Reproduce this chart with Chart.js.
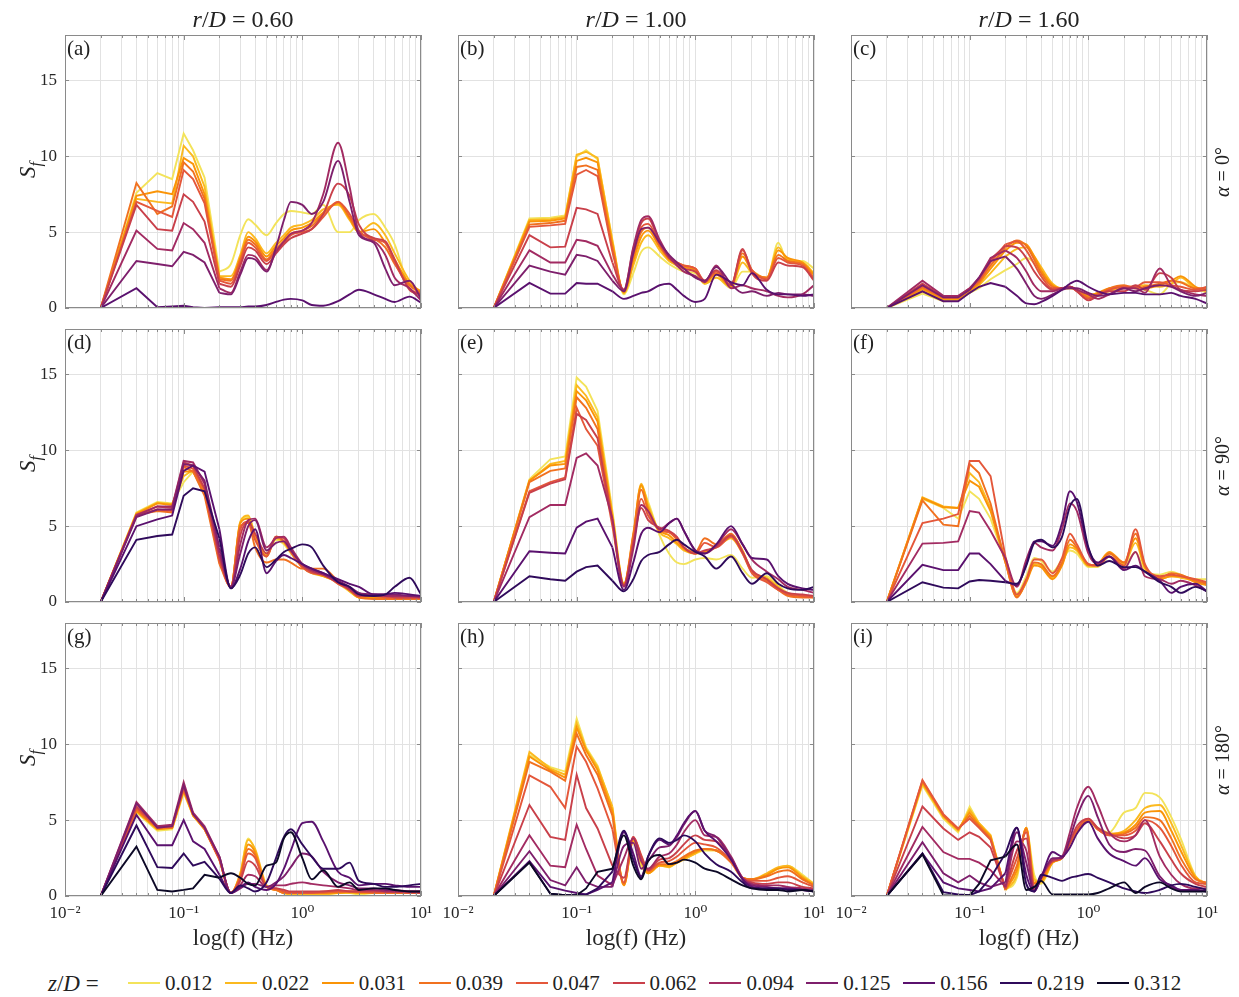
<!DOCTYPE html>
<html>
<head>
<meta charset="utf-8">
<title>Spectra S_f</title>
<script src="https://cdn.jsdelivr.net/npm/chart.js@4.4.1/dist/chart.umd.min.js"></script>
<style>
  body { margin: 0; background: #fff; }
  #page { position: relative; width: 1239px; height: 997px; overflow: hidden;
          font-family: "Liberation Serif", "DejaVu Serif", serif; color: #222; }
  #page canvas { position: absolute; }
  .txt { position: absolute; white-space: nowrap; line-height: 1; }
  .rot { transform: translate(-50%, -50%) rotate(-90deg); }
  .ctr { transform: translate(-50%, -50%); }
  .mid { transform: translate(0, -50%); }
</style>
</head>
<body>
<div id="page"></div>
<script>
// frequency samples (Hz) shared by every curve
const freq = [0.02, 0.04, 0.06, 0.08, 0.1, 0.12, 0.15, 0.2, 0.25, 0.3, 0.35, 0.4, 0.5, 0.6, 0.7,
              0.8, 1, 1.2, 1.5, 2, 2.5, 3, 4, 5, 6, 8, 10];
// below this frequency the spectra are drawn as straight segments
const linearUpTo = 0.2;

const zLabels = ['0.012', '0.022', '0.031', '0.039', '0.047', '0.062', '0.094', '0.125', '0.156', '0.219', '0.312'];
const zColors = ['#f3e35a', '#fbb91f', '#fa9407', '#f1711f', '#e4573a', '#c9404a',
                 '#a22b62', '#7e1f6c', '#5a116e', '#2f0a5b', '#0c0826'];

const rdLabels = ['0.60', '1.00', '1.60'];
const alphaLabels = ['0°', '90°', '180°'];
const panelLetters = ['a', 'b', 'c', 'd', 'e', 'f', 'g', 'h', 'i'];

const yTicks = [0, 5, 10, 15];
const xMajor = [0.01, 0.1, 1, 10];
const xMajorLabels = ['10⁻²', '10⁻¹', '10⁰', '10¹'];

// (a) r/D = 0.60, alpha = 0
const zA = [0, 1, 2, 3, 4, 5, 6, 7, 8];
const sA = [
  [0, 7.6, 8.9, 8.5, 11.5, 10.4, 8.6, 2.4, 2.9, 4.8, 5.85, 5.5, 4.8, 5.6, 6.2, 6.4, 6.3, 6.2, 6.8, 5.0, 5.0, 5.8, 6.2, 5.3, 4.2, 1.3, 0.8],
  [0, 7.2, 7.0, 6.9, 10.7, 10.0, 8.0, 2.1, 2.1, 3.5, 5.0, 4.6, 3.6, 4.3, 4.8, 5.3, 5.5, 5.8, 6.5, 6.8, 5.8, 5.0, 5.6, 4.8, 3.6, 1.8, 1.0],
  [0, 7.4, 7.7, 7.5, 9.9, 9.5, 7.5, 2.0, 1.9, 3.3, 4.7, 4.4, 3.4, 4.1, 4.6, 5.1, 5.3, 5.6, 6.3, 6.9, 5.9, 5.0, 5.2, 4.3, 3.2, 1.6, 1.1],
  [0, 8.25, 6.2, 6.7, 9.6, 9.0, 7.2, 1.9, 1.8, 3.2, 4.5, 4.2, 3.2, 3.9, 4.4, 4.9, 5.1, 5.4, 6.2, 7.0, 6.0, 5.0, 4.6, 4.0, 2.9, 1.5, 1.0],
  [0, 7.0, 6.4, 6.0, 9.1, 8.5, 6.9, 1.8, 1.6, 3.0, 4.3, 4.0, 3.1, 3.8, 4.3, 4.8, 5.0, 5.2, 6.0, 7.0, 6.2, 5.1, 4.5, 4.3, 3.0, 1.3, 0.9],
  [0, 6.8, 5.2, 5.1, 7.5, 7.0, 5.7, 1.6, 1.4, 2.8, 4.0, 3.8, 2.9, 3.6, 4.2, 4.6, 4.9, 5.2, 6.2, 8.2, 7.4, 5.5, 4.6, 4.4, 3.2, 1.2, 0.9],
  [0, 5.1, 3.9, 3.8, 5.6, 5.2, 4.3, 1.3, 1.0, 2.4, 3.5, 3.4, 2.5, 3.7, 4.4, 4.9, 5.1, 5.6, 7.5, 10.9, 8.0, 5.0, 4.4, 3.5, 2.0, 1.3, 0.5],
  [0, 3.1, 2.9, 2.75, 3.7, 3.5, 3.0, 1.0, 0.9, 2.2, 3.3, 3.2, 2.4, 4.0, 5.8, 7.0, 6.8, 6.2, 7.0, 9.7, 7.0, 4.8, 4.3, 2.6, 1.5, 1.8, 0.6],
  [0, 1.3, 0.05, 0.1, 0.15, 0.05, 0, 0.05, 0.05, 0.05, 0.1, 0.1, 0.2, 0.4, 0.55, 0.6, 0.5, 0.2, 0.15, 0.45, 0.9, 1.2, 0.9, 0.6, 0.4, 0.75, 0.35]
];

// (b) r/D = 1.00, alpha = 0
const zB = [0, 1, 2, 3, 4, 5, 6, 7, 8];
const sB = [
  [0, 5.9, 5.95, 6.1, 10.0, 10.4, 9.8, 4.5, 0.9, 2.3, 3.7, 4.0, 3.4, 2.9, 2.6, 2.4, 2.3, 1.6, 2.0, 1.3, 2.4, 2.4, 1.9, 4.3, 3.0, 3.1, 2.6],
  [0, 5.8, 5.85, 6.0, 10.1, 10.3, 9.9, 4.4, 1.0, 2.8, 4.3, 4.8, 3.8, 3.1, 2.8, 2.6, 2.4, 1.6, 2.0, 1.4, 3.0, 2.3, 2.0, 4.0, 3.2, 3.0, 2.3],
  [0, 5.7, 5.75, 5.9, 9.7, 9.9, 9.6, 4.2, 1.0, 3.1, 4.7, 5.1, 4.0, 3.2, 2.9, 2.7, 2.5, 1.7, 2.2, 1.4, 3.4, 2.4, 2.0, 3.8, 3.3, 3.0, 2.2],
  [0, 5.5, 5.6, 5.75, 9.3, 9.4, 9.1, 3.9, 1.1, 3.4, 5.0, 5.3, 4.1, 3.3, 3.0, 2.8, 2.6, 1.7, 2.3, 1.5, 3.6, 2.5, 2.0, 3.5, 3.1, 2.9, 2.0],
  [0, 5.35, 5.45, 5.55, 8.8, 9.1, 8.7, 3.7, 1.1, 3.6, 5.3, 5.55, 4.2, 3.3, 3.0, 2.8, 2.6, 1.8, 2.4, 1.5, 3.8, 2.5, 1.9, 3.3, 3.0, 2.8, 1.9],
  [0, 4.8, 4.0, 4.05, 6.6, 6.5, 6.2, 3.0, 1.2, 3.9, 5.6, 5.9, 4.3, 3.3, 2.9, 2.6, 2.4, 1.8, 2.5, 1.5, 3.9, 2.3, 1.8, 3.0, 2.8, 2.7, 1.8],
  [0, 3.8, 3.0, 3.0, 4.5, 4.4, 4.1, 2.2, 1.2, 4.0, 5.8, 6.05, 4.5, 3.4, 2.8, 2.4, 2.1, 1.7, 2.8, 1.3, 1.5, 1.3, 1.1, 0.8, 0.7, 0.9, 1.5],
  [0, 2.8, 2.4, 2.2, 3.5, 3.4, 3.1, 1.8, 1.1, 3.6, 5.2, 5.3, 4.3, 3.5, 3.0, 2.6, 2.0, 1.8, 2.7, 1.6, 1.0, 1.1, 0.8, 1.0, 0.9, 0.9, 0.8],
  [0, 1.65, 0.95, 0.95, 1.65, 1.6, 1.6, 1.1, 0.6, 0.8, 1.0, 1.1, 1.5, 1.6, 1.2, 0.8, 0.4, 0.6, 2.2, 1.7, 1.5, 2.3, 1.2, 0.9, 0.9, 0.8, 0.9]
];

// (c) r/D = 1.60, alpha = 0
const zC = [0, 1, 2, 3, 4, 5, 6, 7, 8];
const sC = [
  [0, 0.95, 0.45, 0.5, 1.0, 1.3, 1.9, 2.5, 2.9, 3.3, 3.0, 2.4, 1.5, 1.3, 1.3, 1.2, 0.9, 0.9, 1.1, 1.4, 1.3, 1.2, 0.9, 1.6, 1.7, 1.3, 1.0],
  [0, 1.1, 0.55, 0.55, 1.1, 1.5, 2.3, 3.4, 3.9, 4.0, 3.4, 2.7, 1.6, 1.3, 1.3, 1.2, 0.8, 1.0, 1.2, 1.3, 1.4, 1.5, 1.4, 1.6, 2.0, 1.3, 1.2],
  [0, 1.25, 0.6, 0.6, 1.15, 1.6, 2.6, 3.8, 4.3, 4.2, 3.4, 2.5, 1.5, 1.3, 1.4, 1.2, 0.8, 1.0, 1.3, 1.4, 1.4, 1.3, 1.5, 1.8, 2.1, 1.4, 1.1],
  [0, 1.35, 0.65, 0.65, 1.2, 1.7, 2.8, 4.0, 4.45, 4.1, 3.2, 2.3, 1.4, 1.3, 1.4, 1.2, 0.7, 0.9, 1.3, 1.5, 1.3, 1.4, 1.6, 1.8, 1.7, 1.3, 1.3],
  [0, 1.45, 0.7, 0.7, 1.25, 1.8, 3.0, 4.2, 4.4, 3.8, 2.9, 2.1, 1.3, 1.3, 1.4, 1.1, 0.6, 0.9, 1.2, 1.4, 1.4, 1.7, 1.7, 1.5, 1.4, 1.2, 1.4],
  [0, 1.6, 0.75, 0.75, 1.3, 1.9, 3.2, 4.1, 4.0, 3.3, 2.4, 1.8, 1.2, 1.3, 1.4, 1.1, 0.5, 0.8, 1.1, 1.1, 1.5, 1.2, 2.3, 2.0, 1.2, 1.1, 1.2],
  [0, 1.8, 0.8, 0.8, 1.3, 2.0, 3.3, 3.8, 3.3, 2.4, 1.5, 1.1, 1.1, 1.3, 1.4, 1.2, 0.9, 0.6, 0.9, 1.3, 1.3, 1.0, 2.6, 1.5, 1.2, 0.9, 0.8],
  [0, 1.5, 0.7, 0.7, 1.2, 2.0, 3.1, 3.4, 2.6, 1.6, 0.8, 0.6, 0.9, 1.2, 1.3, 1.3, 1.0, 0.8, 0.9, 1.3, 1.1, 1.3, 1.5, 1.4, 1.1, 0.8, 1.0],
  [0, 1.1, 0.45, 0.45, 1.0, 1.4, 1.65, 1.4, 0.8, 0.3, 0.25, 0.4, 0.8, 1.2, 1.6, 1.8, 1.4, 1.1, 0.9, 1.0, 1.0, 0.9, 0.9, 1.0, 0.8, 0.6, 0.3]
];

// (d) r/D = 0.60, alpha = 90
const zD = [0, 1, 2, 3, 4, 5, 6, 7, 8, 9];
const sD = [
  [0, 5.9, 6.6, 6.5, 7.9, 8.6, 7.2, 3.0, 1.0, 5.2, 5.6, 4.4, 3.2, 4.1, 3.8, 3.2, 2.3, 1.9, 1.8, 1.2, 0.7, 0.3, 0.3, 0.3, 0.3, 0.2, 0.2],
  [0, 5.85, 6.55, 6.45, 8.3, 8.7, 7.3, 2.9, 1.0, 5.3, 5.7, 4.4, 3.1, 4.2, 3.9, 3.3, 2.3, 1.9, 1.7, 1.3, 0.7, 0.3, 0.3, 0.3, 0.3, 0.2, 0.2],
  [0, 5.8, 6.5, 6.4, 8.6, 8.6, 7.2, 2.7, 1.0, 5.2, 5.5, 4.2, 3.0, 4.3, 4.0, 3.3, 2.3, 2.0, 1.7, 1.3, 0.8, 0.3, 0.3, 0.3, 0.3, 0.2, 0.2],
  [0, 5.75, 6.0, 5.9, 8.9, 8.6, 7.0, 2.5, 1.0, 5.0, 5.2, 3.6, 2.6, 2.8, 2.8, 2.6, 2.2, 2.2, 2.2, 1.4, 0.9, 0.3, 0.2, 0.2, 0.2, 0.2, 0.2],
  [0, 5.7, 6.1, 6.0, 9.0, 8.8, 7.4, 2.7, 1.0, 4.8, 5.3, 4.1, 3.0, 4.3, 4.0, 3.3, 2.3, 1.9, 1.8, 1.2, 0.8, 0.4, 0.4, 0.3, 0.3, 0.3, 0.3],
  [0, 5.75, 6.3, 6.2, 9.2, 9.0, 7.5, 2.9, 1.0, 4.4, 5.3, 4.5, 3.2, 4.3, 4.2, 3.5, 2.4, 2.0, 1.8, 1.3, 0.8, 0.4, 0.4, 0.4, 0.3, 0.3, 0.3],
  [0, 5.7, 6.3, 6.3, 9.3, 9.2, 7.8, 3.2, 1.0, 3.8, 5.4, 5.5, 3.6, 4.2, 4.3, 3.6, 2.5, 2.1, 1.8, 1.3, 0.9, 0.5, 0.5, 0.4, 0.4, 0.4, 0.3],
  [0, 5.6, 6.1, 6.1, 9.1, 9.0, 8.0, 3.6, 1.0, 3.2, 5.0, 5.4, 3.4, 3.9, 4.0, 3.4, 2.5, 2.2, 1.9, 1.4, 1.0, 0.6, 0.5, 0.5, 0.5, 0.4, 0.4],
  [0, 5.0, 5.45, 5.7, 8.65, 9.0, 8.6, 4.8, 0.9, 2.2, 4.0, 4.8, 1.9, 2.7, 3.1, 2.9, 2.5, 2.2, 1.9, 1.5, 1.2, 1.0, 0.5, 0.5, 0.6, 0.5, 0.4],
  [0, 4.1, 4.35, 4.45, 7.0, 7.5, 7.3, 4.2, 0.9, 1.8, 3.2, 3.6, 2.3, 2.8, 3.3, 3.5, 3.8, 3.6, 2.4, 1.3, 1.0, 0.5, 0.4, 0.5, 1.0, 1.6, 0.5]
];

// (e) r/D = 1.00, alpha = 90
const zE = [0, 1, 2, 3, 4, 5, 6, 8, 9];
const sE = [
  [0, 8.1, 9.4, 9.6, 14.8, 14.2, 12.6, 6.0, 1.2, 4.0, 7.6, 6.6, 4.4, 3.2, 2.6, 2.5, 2.8, 2.9, 2.8, 3.1, 2.2, 1.6, 1.7, 1.1, 0.6, 0.4, 0.3],
  [0, 8.0, 9.1, 9.3, 14.3, 13.6, 12.2, 5.8, 1.2, 4.3, 7.8, 6.4, 4.6, 4.2, 3.8, 3.4, 3.2, 3.3, 3.6, 4.2, 3.2, 2.0, 1.6, 1.0, 0.5, 0.4, 0.4],
  [0, 8.0, 9.0, 9.1, 13.9, 13.3, 11.9, 5.6, 1.2, 4.5, 7.7, 6.2, 4.7, 4.4, 3.9, 3.5, 3.2, 3.3, 3.7, 4.4, 3.4, 2.0, 1.5, 0.9, 0.5, 0.4, 0.4],
  [0, 7.9, 8.65, 8.8, 13.5, 12.8, 11.4, 5.4, 1.1, 4.4, 7.4, 6.0, 4.7, 4.6, 4.1, 3.6, 3.3, 4.2, 3.8, 4.5, 3.3, 2.0, 1.4, 0.8, 0.4, 0.3, 0.3],
  [0, 7.3, 7.9, 8.2, 12.8, 11.4, 10.3, 5.0, 1.1, 4.0, 6.8, 5.7, 4.8, 4.6, 4.2, 3.6, 3.2, 3.9, 3.6, 4.3, 3.2, 1.9, 1.3, 0.8, 0.5, 0.4, 0.3],
  [0, 7.2, 7.8, 8.1, 12.4, 12.0, 10.8, 5.3, 1.1, 3.9, 6.2, 5.4, 4.9, 4.7, 4.3, 3.6, 3.2, 3.4, 3.6, 4.4, 3.3, 2.1, 1.5, 0.9, 0.6, 0.5, 0.4],
  [0, 5.6, 6.4, 6.4, 9.5, 9.8, 9.0, 5.5, 1.0, 3.5, 6.4, 6.0, 4.8, 5.2, 5.5, 4.7, 3.4, 3.2, 3.7, 4.8, 3.8, 2.8, 2.0, 1.5, 1.0, 0.8, 0.6],
  [0, 3.35, 3.25, 3.2, 4.9, 5.3, 5.5, 3.6, 0.8, 2.6, 4.5, 4.9, 4.6, 5.2, 5.5, 4.7, 3.4, 3.2, 3.8, 5.0, 3.8, 2.9, 2.8, 1.7, 1.2, 0.9, 0.8],
  [0, 1.7, 1.5, 1.4, 2.0, 2.3, 2.4, 1.4, 0.7, 1.5, 2.7, 3.1, 3.3, 3.8, 4.1, 3.8, 3.3, 3.0, 2.2, 3.0, 1.9, 1.2, 1.9, 1.2, 0.9, 0.8, 1.0]
];

// (f) r/D = 1.60, alpha = 90
const zF = [0, 1, 2, 3, 4, 6, 8, 9];
const sF = [
  [0, 6.8, 6.2, 5.5, 7.3, 6.8, 5.5, 2.7, 0.6, 1.7, 2.9, 2.7, 2.0, 2.8, 3.4, 3.2, 2.3, 2.3, 3.0, 2.4, 3.3, 2.0, 1.8, 2.0, 1.8, 1.5, 1.5],
  [0, 6.9, 6.3, 6.2, 8.5, 7.9, 6.2, 2.7, 0.4, 1.4, 2.5, 2.4, 1.6, 2.5, 3.6, 3.4, 2.4, 2.5, 3.2, 2.5, 3.9, 2.2, 1.5, 1.7, 1.6, 1.4, 1.2],
  [0, 6.85, 6.25, 6.2, 8.0, 7.6, 6.0, 2.6, 0.35, 1.3, 2.4, 2.3, 1.5, 2.4, 3.8, 3.5, 2.4, 2.5, 3.3, 2.6, 4.2, 2.3, 1.5, 1.7, 1.7, 1.3, 1.1],
  [0, 6.7, 5.1, 5.0, 9.1, 8.5, 6.5, 2.6, 0.3, 1.4, 2.6, 2.5, 1.7, 2.6, 4.1, 3.6, 2.5, 2.4, 3.2, 2.6, 4.5, 2.4, 1.6, 1.9, 1.8, 1.4, 1.2],
  [0, 5.2, 5.5, 5.8, 9.3, 9.3, 8.3, 3.0, 0.5, 1.5, 2.8, 2.8, 1.9, 2.9, 4.5, 3.8, 2.5, 2.4, 3.0, 2.4, 4.8, 2.5, 1.7, 1.8, 1.7, 1.5, 1.3],
  [0, 3.85, 3.9, 4.0, 6.0, 5.9, 4.7, 2.9, 1.0, 2.8, 3.9, 3.6, 3.4, 4.8, 6.5, 6.0, 3.2, 2.5, 3.0, 2.2, 3.3, 1.7, 1.5, 1.2, 1.4, 1.1, 0.7],
  [0, 2.45, 2.1, 2.1, 3.2, 3.2, 2.5, 1.4, 1.1, 2.5, 4.0, 4.0, 3.7, 5.2, 7.3, 6.6, 3.5, 2.6, 3.0, 2.1, 2.4, 2.0, 1.4, 0.6, 1.0, 1.2, 0.7],
  [0, 1.3, 0.95, 0.9, 1.35, 1.45, 1.4, 1.3, 1.2, 2.4, 3.9, 4.1, 3.6, 4.3, 6.3, 6.8, 3.6, 2.4, 2.7, 2.3, 2.3, 2.0, 1.3, 1.0, 0.6, 1.0, 0.7]
];

// (g) r/D = 0.60, alpha = 180
const zG = [0, 1, 2, 3, 4, 5, 6, 7, 8, 9, 10];
const sG = [
  [0, 5.5, 4.3, 4.4, 6.8, 5.3, 4.4, 2.5, 0.2, 1.5, 3.8, 3.0, 0.6, 0.4, 0.2, 0.1, 0.1, 0.1, 0.1, 0.2, 0.2, 0.1, 0.2, 0.2, 0.2, 0.2, 0.2],
  [0, 5.6, 4.4, 4.5, 6.9, 5.3, 4.5, 2.5, 0.2, 1.5, 3.7, 3.1, 0.7, 0.4, 0.2, 0.1, 0.1, 0.1, 0.1, 0.2, 0.2, 0.2, 0.2, 0.2, 0.2, 0.2, 0.2],
  [0, 5.6, 4.4, 4.5, 7.0, 5.3, 4.4, 2.4, 0.2, 1.4, 3.4, 2.9, 0.6, 0.4, 0.2, 0.2, 0.2, 0.2, 0.2, 0.2, 0.3, 0.2, 0.2, 0.2, 0.2, 0.2, 0.2],
  [0, 5.7, 4.5, 4.5, 7.0, 5.4, 4.4, 2.4, 0.2, 1.3, 3.1, 2.7, 0.6, 0.4, 0.2, 0.2, 0.2, 0.2, 0.2, 0.3, 0.3, 0.3, 0.2, 0.2, 0.2, 0.2, 0.2],
  [0, 5.8, 4.5, 4.6, 7.1, 5.4, 4.5, 2.4, 0.2, 1.2, 2.8, 2.5, 0.6, 0.5, 0.3, 0.2, 0.2, 0.2, 0.3, 0.3, 0.3, 0.3, 0.3, 0.3, 0.3, 0.2, 0.2],
  [0, 5.9, 4.6, 4.6, 7.2, 5.4, 4.5, 2.5, 0.2, 1.0, 2.3, 2.0, 0.6, 0.5, 0.4, 0.3, 0.3, 0.3, 0.3, 0.4, 0.3, 0.3, 0.3, 0.3, 0.3, 0.3, 0.2],
  [0, 6.2, 4.6, 4.7, 7.5, 5.5, 4.6, 2.6, 0.2, 0.7, 1.4, 1.3, 0.6, 0.7, 0.7, 0.8, 0.9, 0.8, 0.7, 0.6, 0.5, 0.4, 0.4, 0.3, 0.3, 0.3, 0.3],
  [0, 6.1, 4.5, 4.6, 7.3, 5.4, 4.5, 2.6, 0.2, 0.5, 0.8, 0.8, 0.6, 0.9, 1.3, 1.9, 2.8, 2.6, 1.6, 0.9, 0.7, 0.5, 0.5, 0.4, 0.4, 0.3, 0.3],
  [0, 5.35, 3.35, 3.35, 5.0, 3.6, 3.1, 1.4, 0.2, 0.6, 0.9, 0.6, 0.4, 0.8, 1.8, 3.0, 4.8, 4.9, 3.6, 1.6, 1.2, 0.7, 0.8, 0.8, 0.7, 0.6, 0.6],
  [0, 4.65, 1.9, 1.85, 2.8, 2.0, 2.25, 1.15, 0.2, 0.7, 0.5, 0.3, 0.9, 2.5, 3.9, 4.4, 3.4, 2.6, 1.8, 1.8, 2.2, 1.0, 0.8, 0.6, 0.6, 0.7, 0.8],
  [0, 3.25, 0.4, 0.3, 0.4, 0.5, 1.4, 1.2, 1.5, 1.2, 0.8, 0.7, 2.0, 2.2, 3.8, 4.2, 2.5, 1.1, 1.7, 0.6, 0.9, 0.4, 0.5, 0.5, 0.4, 0.3, 0.3]
];

// (h) r/D = 1.00, alpha = 180
const zH = [0, 1, 2, 3, 4, 5, 6, 7, 8, 9, 10];
const sH = [
  [0, 9.3, 8.5, 8.2, 11.7, 9.8, 8.6, 5.8, 0.8, 3.7, 2.0, 1.5, 2.0, 1.9, 2.2, 2.4, 2.8, 3.0, 3.0, 2.3, 1.2, 1.1, 1.4, 1.8, 2.0, 1.4, 0.8],
  [0, 9.5, 8.4, 8.0, 11.4, 9.7, 8.5, 5.9, 0.7, 3.6, 2.2, 1.5, 2.0, 1.9, 2.2, 2.4, 2.8, 3.1, 3.0, 2.3, 1.2, 1.1, 1.5, 1.9, 2.0, 1.3, 0.8],
  [0, 9.2, 8.3, 7.8, 11.1, 9.6, 8.3, 5.6, 0.7, 3.7, 2.4, 1.5, 2.0, 2.0, 2.2, 2.5, 2.9, 3.1, 3.0, 2.3, 1.2, 1.1, 1.4, 1.8, 1.9, 1.2, 0.7],
  [0, 8.85, 8.2, 7.6, 10.7, 9.3, 8.0, 5.3, 0.8, 3.8, 2.6, 1.6, 2.1, 2.1, 2.3, 2.6, 3.0, 3.1, 3.0, 2.2, 1.2, 1.1, 1.3, 1.6, 1.7, 1.1, 0.7],
  [0, 7.95, 7.2, 5.8, 9.85, 8.85, 7.1, 4.4, 0.9, 3.9, 2.7, 1.7, 2.2, 2.3, 2.6, 3.0, 3.5, 3.4, 3.2, 2.3, 1.2, 1.0, 1.0, 1.2, 1.3, 0.9, 0.6],
  [0, 6.0, 3.9, 3.7, 8.0, 5.8, 4.45, 2.0, 1.2, 3.9, 2.6, 1.7, 2.4, 2.5, 2.9, 3.4, 4.0, 3.7, 3.6, 2.5, 1.2, 0.9, 0.8, 0.9, 0.9, 0.6, 0.5],
  [0, 4.0, 2.0, 1.9, 4.7, 3.1, 1.35, 0.7, 2.5, 3.8, 2.3, 1.8, 2.6, 2.8, 3.4, 4.2, 5.0, 4.0, 3.9, 2.6, 1.2, 0.8, 0.7, 0.7, 0.6, 0.5, 0.4],
  [0, 2.95, 1.05, 0.7, 1.9, 0.9, 0.6, 0.6, 3.3, 3.5, 1.8, 2.3, 3.2, 3.3, 3.9, 4.7, 5.6, 4.3, 3.9, 2.5, 1.1, 0.7, 0.6, 0.5, 0.5, 0.4, 0.4],
  [0, 2.3, 0.6, 0.35, 0.2, 0.1, 0.4, 0.9, 4.2, 2.8, 1.3, 2.6, 3.7, 3.4, 4.0, 4.8, 5.6, 4.3, 3.6, 2.4, 1.1, 0.6, 0.5, 0.5, 0.5, 0.4, 0.3],
  [0, 2.25, 0.15, 0.05, 0.05, 0.1, 0.5, 1.6, 4.3, 2.4, 1.2, 2.6, 3.8, 3.5, 3.7, 4.0, 3.6, 2.8, 2.1, 1.6, 0.9, 0.5, 0.5, 0.5, 0.4, 0.4, 0.3],
  [0, 2.2, 0.15, 0.05, 0.05, 0.5, 1.6, 1.8, 4.0, 2.0, 1.1, 2.3, 2.7, 2.1, 2.2, 2.4, 2.2, 1.8, 1.6, 1.1, 0.7, 0.5, 0.4, 0.4, 0.3, 0.4, 0.3]
];

// (i) r/D = 1.60, alpha = 180
const zI = [0, 1, 2, 3, 4, 5, 6, 7, 8, 9, 10];
const sI = [
  [0, 7.3, 5.1, 4.2, 5.9, 4.8, 4.0, 0.4, 1.2, 4.4, 1.4, 0.8, 2.2, 2.5, 3.5, 4.3, 5.0, 4.5, 4.2, 5.5, 5.8, 6.8, 6.5, 5.2, 3.8, 1.3, 0.7],
  [0, 7.4, 5.2, 4.3, 5.7, 4.8, 4.0, 0.4, 1.4, 4.5, 1.1, 0.9, 2.2, 2.5, 3.5, 4.3, 5.0, 4.4, 4.1, 4.3, 5.0, 5.8, 6.0, 4.8, 3.4, 1.3, 0.8],
  [0, 7.5, 5.3, 4.4, 5.5, 4.7, 3.9, 0.4, 1.7, 4.5, 0.9, 1.0, 2.2, 2.5, 3.5, 4.3, 5.0, 4.4, 4.1, 4.2, 4.7, 5.5, 5.6, 4.3, 3.0, 1.2, 0.8],
  [0, 7.6, 5.3, 4.4, 5.3, 4.6, 3.8, 0.4, 2.0, 4.4, 0.8, 1.1, 2.3, 2.5, 3.5, 4.3, 5.0, 4.4, 4.0, 4.1, 4.5, 5.2, 5.0, 3.8, 2.5, 1.1, 0.9],
  [0, 7.65, 5.4, 4.45, 5.1, 4.5, 3.7, 0.5, 2.5, 4.2, 0.6, 1.2, 2.3, 2.5, 3.5, 4.4, 5.1, 4.4, 4.0, 4.0, 4.3, 5.0, 4.5, 3.3, 2.1, 0.9, 0.8],
  [0, 5.9, 4.45, 3.7, 4.2, 3.9, 3.2, 0.5, 3.0, 3.8, 0.5, 1.3, 2.3, 2.5, 3.6, 4.6, 5.1, 4.5, 4.1, 3.8, 4.0, 4.8, 3.6, 2.4, 1.5, 0.8, 0.6],
  [0, 4.55, 2.9, 2.45, 2.45, 2.2, 1.7, 0.6, 3.6, 3.0, 0.4, 1.3, 2.4, 2.6, 4.2, 5.8, 7.2, 6.0, 4.2, 3.6, 4.0, 5.0, 2.6, 1.4, 0.8, 0.5, 0.5],
  [0, 3.55, 1.5, 0.9, 1.35, 0.9, 0.6, 0.9, 4.2, 2.2, 0.3, 1.2, 2.5, 2.5, 3.8, 5.2, 6.6, 5.2, 3.4, 2.9, 3.1, 3.0, 1.3, 0.6, 0.4, 0.4, 0.3],
  [0, 2.8, 0.9, 0.5, 0.4, 0.3, 0.5, 1.5, 4.5, 1.4, 0.3, 1.2, 2.9, 2.6, 3.2, 4.1, 4.9, 3.8, 2.8, 2.3, 2.0, 2.5, 1.1, 0.7, 0.4, 0.4, 0.3],
  [0, 2.8, 0.25, 0.1, 0.05, 0.3, 1.2, 2.8, 4.5, 0.8, 0.3, 1.4, 1.2, 1.0, 1.2, 1.3, 1.45, 1.2, 0.9, 0.5, 0.3, 0.2, 0.4, 0.7, 0.8, 0.6, 0.4],
  [0, 2.75, 0.05, 0, 0.05, 0.8, 2.35, 2.6, 3.4, 0.4, 0.6, 1.0, 0.1, 0.1, 0.1, 0.1, 0.1, 0.2, 0.5, 0.9, 0.2, 0.6, 0.9, 0.5, 0.3, 0.3, 0.3]
];

const panels = [[zA, sA], [zB, sB], [zC, sC], [zD, sD], [zE, sE], [zF, sF], [zG, sG], [zH, sH], [zI, sI]];

// layout (px)
const colLeft = [65, 458, 851];
const rowTop = [35, 329, 623];
const plotW = 356, plotH = 273;
const padL = 60, padT = 10, padR = 24, padB = 60;
const serif = '"Liberation Serif", "DejaVu Serif", serif';
const ink = '#262626';

// grid positions on the log axis: 1..9 x each decade, plus the last decade
const xGridTicks = [];
xMajor.slice(0, -1).forEach(d => { for (let m = 1; m <= 9; m++) xGridTicks.push(d * m); });
xGridTicks.push(xMajor[xMajor.length - 1]);

// box around each axes with inward tick marks, drawn over the curves
const boxPlugin = {
  id: 'box',
  afterDatasetsDraw(chart) {
    const { ctx, chartArea: a, scales: { x, y } } = chart;
    ctx.save();
    ctx.strokeStyle = '#8a8a8a';
    ctx.lineWidth = 1;
    ctx.beginPath();
    x.ticks.forEach(t => {
      const px = Math.round(x.getPixelForValue(t.value)) + 0.5;
      const len = xMajor.includes(t.value) ? 5 : 3;
      ctx.moveTo(px, a.bottom); ctx.lineTo(px, a.bottom - len);
      ctx.moveTo(px, a.top); ctx.lineTo(px, a.top + len);
    });
    y.ticks.forEach(t => {
      const py = Math.round(y.getPixelForValue(t.value)) + 0.5;
      ctx.moveTo(a.left, py); ctx.lineTo(a.left + 4, py);
      ctx.moveTo(a.right, py); ctx.lineTo(a.right - 4, py);
    });
    ctx.stroke();
    ctx.strokeRect(a.left + 0.5, a.top + 0.5, a.width - 1, a.height - 1);
    ctx.restore();
  }
};

const page = document.getElementById('page');

function addText(html, x, y, cls, size) {
  const d = document.createElement('div');
  d.className = 'txt ' + cls;
  d.style.left = x + 'px';
  d.style.top = y + 'px';
  d.style.fontSize = size + 'px';
  d.innerHTML = html;
  page.appendChild(d);
  return d;
}

panels.forEach(([zs, series], k) => {
  const r = Math.floor(k / 3), c = k % 3;
  const cv = document.createElement('canvas');
  cv.width = plotW + padL + padR;
  cv.height = plotH + padT + padB;
  cv.style.left = (colLeft[c] - padL) + 'px';
  cv.style.top = (rowTop[r] - padT) + 'px';
  page.appendChild(cv);

  // each curve: straight segments at low frequency, smooth above
  const datasets = [];
  series.forEach((vals, j) => {
    const z = zs[j];
    const pts = freq.map((f, i) => ({ x: f, y: vals[i] }));
    const common = {
      label: zLabels[z],
      borderColor: zColors[z],
      borderWidth: 1.9,
      pointRadius: 0,
      fill: false,
      order: -z
    };
    datasets.push(Object.assign({}, common, { data: pts.filter(p => p.x <= linearUpTo), tension: 0 }));
    datasets.push(Object.assign({}, common, { data: pts.filter(p => p.x >= linearUpTo), cubicInterpolationMode: 'monotone' }));
  });

  new Chart(cv, {
    type: 'line',
    data: { datasets },
    options: {
      responsive: false,
      animation: false,
      devicePixelRatio: 1,
      layout: { padding: { left: 0, top: padT, right: padR, bottom: 0 }, autoPadding: false },
      plugins: { legend: { display: false }, tooltip: { enabled: false } },
      scales: {
        x: {
          type: 'logarithmic',
          min: 0.01,
          max: 10,
          afterBuildTicks: s => { s.ticks = xGridTicks.map(v => ({ value: v })); },
          afterFit: s => { s.height = padB; s.paddingLeft = 0; s.paddingRight = 0; },
          grid: { color: '#e2e2e2', drawTicks: false },
          border: { display: false },
          ticks: {
            display: r === 2,
            autoSkip: false,
            maxRotation: 0,
            padding: 7,
            color: ink,
            font: { family: serif, size: 17 },
            callback: v => {
              const i = xMajor.indexOf(v);
              return i >= 0 ? xMajorLabels[i] : '';
            }
          },
          title: {
            display: r === 2,
            text: 'log(f) (Hz)',
            color: ink,
            font: { family: serif, size: 23 },
            padding: { top: 0, bottom: 3 }
          }
        },
        y: {
          min: 0,
          max: 18,
          afterBuildTicks: s => { s.ticks = yTicks.map(v => ({ value: v })); },
          afterFit: s => { s.width = padL; s.paddingTop = 0; s.paddingBottom = 0; },
          grid: { color: '#e2e2e2', drawTicks: false },
          border: { display: false },
          ticks: {
            display: c === 0,
            padding: 8,
            color: ink,
            font: { family: serif, size: 17 }
          }
        }
      }
    },
    plugins: [boxPlugin]
  });

  addText('(' + panelLetters[k] + ')', colLeft[c] + 2, rowTop[r] + 3, '', 21);
});

// column titles, row labels, y-axis titles
colLeft.forEach((x, c) => {
  addText('<i>r</i>/<i>D</i> = ' + rdLabels[c], x + plotW / 2, 19, 'ctr', 24);
});
rowTop.forEach((y, r) => {
  addText('<i>α</i> = ' + alphaLabels[r], 1222, y + plotH / 2, 'rot', 20);
  addText('<i>S</i><sub style="font-size:0.7em"><i>f</i></sub>', 30, y + plotH / 2 - 2, 'rot', 23);
});

// legend
addText('<i>z</i>/<i>D</i> =', 48, 983, 'mid', 23);
zLabels.forEach((lab, i) => {
  const x0 = 128 + i * 96.9;
  const sw = document.createElement('div');
  sw.style.cssText = 'position:absolute;left:' + x0 + 'px;top:982px;width:32px;height:2px;background:' + zColors[i];
  page.appendChild(sw);
  addText(lab, x0 + 37, 983, 'mid', 21);
});
</script>
</body>
</html>
